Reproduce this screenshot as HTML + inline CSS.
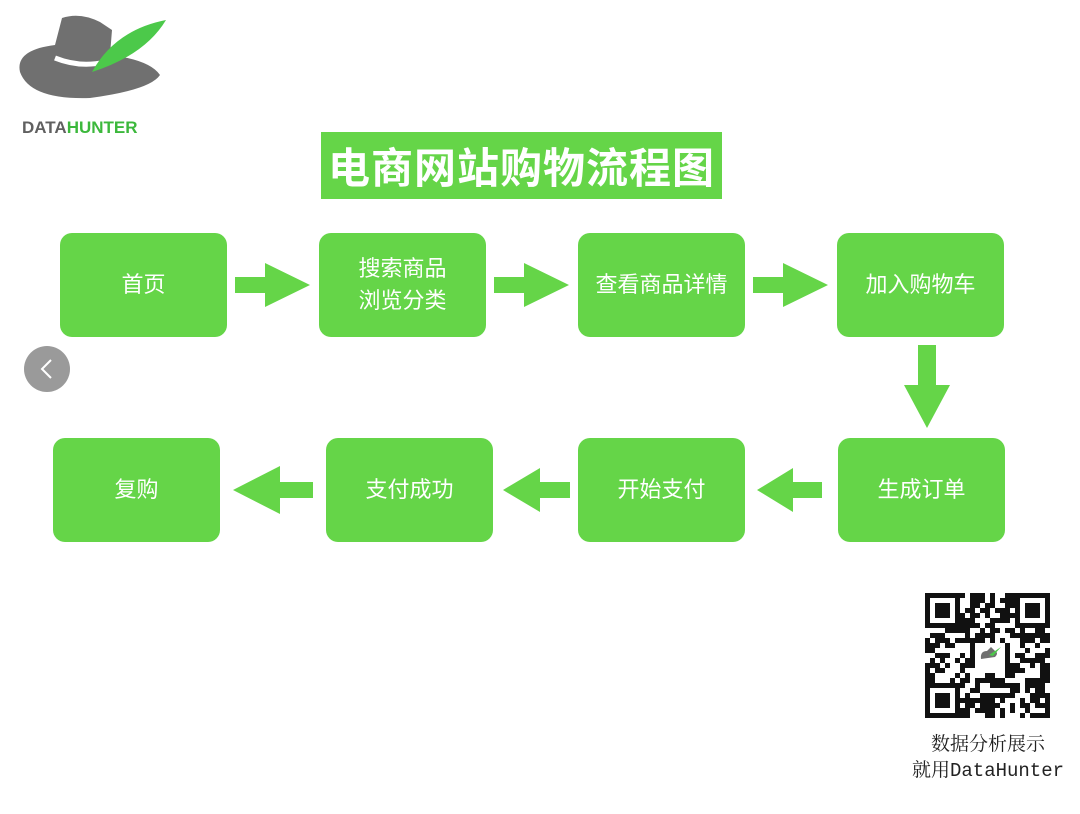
<!DOCTYPE html>
<html><head><meta charset="utf-8"><style>
body{margin:0;width:1080px;height:814px;background:#fff;position:relative;overflow:hidden;font-family:"Liberation Sans","Noto Sans CJK SC",sans-serif}
.b{position:absolute;background:#65d548;border-radius:12px;color:#fff;font-size:22px;display:flex;align-items:center;justify-content:center;text-align:center;line-height:32px;width:167px;height:104px}
.t{position:absolute;left:321px;top:132px;width:401px;height:67px;background:#65d548;color:#fff;font-size:42px;font-weight:bold;display:flex;align-items:center;justify-content:center;letter-spacing:1px}
svg{position:absolute;left:0;top:0}
</style></head><body>
<svg width="1080" height="814">
<g fill="#65d548">
<polygon points="235,277 265,277 265,263 310,285 265,307 265,293 235,293"/>
<polygon points="494,277 524,277 524,263 569,285 524,307 524,293 494,293"/>
<polygon points="753,277 783,277 783,263 828,285 783,307 783,293 753,293"/>
<polygon points="918,345 936,345 936,385 950,385 927,428 904,385 918,385"/>
<polygon points="313,482 280,482 280,466 233,490 280,514 280,498 313,498"/>
<polygon points="570,482 540,482 540,468 503,490 540,512 540,498 570,498"/>
<polygon points="822,482 793,482 793,468 757,490 793,512 793,498 822,498"/>
</g>
<circle cx="47" cy="369" r="23" fill="#9a9a9a"/>
<polyline points="51,360 42,369 51,378" fill="none" stroke="#fff" stroke-width="2"/>
<!-- logo -->
<path d="M20,72 Q15,50 55,45 L62,18 Q80,12 100,22 L112,30 L110,55 Q150,60 160,75 Q150,90 90,98 Q30,100 20,72 Z" fill="#707070"/>
<path d="M55,58 Q80,68 105,62" stroke="#fff" stroke-width="5" fill="none"/>
<path d="M92,72 Q115,30 166,20 Q145,55 92,72 Z" fill="#4cc94a"/>
<text x="22" y="133" font-size="17" font-weight="bold" fill="#606060" font-family="Liberation Sans,sans-serif">DATA<tspan fill="#3cb83c">HUNTER</tspan></text>
<g id="qr" transform="translate(925,593)"></g>
<text x="988" y="750" font-size="19" text-anchor="middle" fill="#222" font-family="Liberation Serif,Noto Serif CJK SC,serif">数据分析展示</text>
<text x="988" y="776" font-size="19" text-anchor="middle" fill="#222" font-family="Liberation Mono,Noto Serif CJK SC,monospace">就用DataHunter</text>
</svg>
<div class="t">电商网站购物流程图</div>
<div class="b" style="left:60px;top:233px">首页</div>
<div class="b" style="left:319px;top:233px">搜索商品<br>浏览分类</div>
<div class="b" style="left:578px;top:233px">查看商品详情</div>
<div class="b" style="left:837px;top:233px">加入购物车</div>
<div class="b" style="left:53px;top:438px">复购</div>
<div class="b" style="left:326px;top:438px">支付成功</div>
<div class="b" style="left:578px;top:438px">开始支付</div>
<div class="b" style="left:838px;top:438px">生成订单</div>
<script>
var g=document.getElementById('qr'),s='',n=25,c=5,seed=7;
function r(){seed=(seed*9301+49297)%233280;return seed/233280;}
function f(x,y){return (x<7&&y<7)||(x>=n-7&&y<7)||(x<7&&y>=n-7);}
for(var y=0;y<n;y++)for(var x=0;x<n;x++){var on;
if(f(x,y)){var a=x,b=y<7?y:y-(n-7);if(x>=n-7)a=x-(n-7);on=(a==0||a==6||b==0||b==6||(a>=2&&a<=4&&b>=2&&b<=4));}
else if(x>=10&&x<=15&&y>=10&&y<=15)on=false;else on=r()<0.5;
if(on)s+='<rect x="'+x*c+'" y="'+y*c+'" width="'+c+'" height="'+c+'" fill="#111"/>';}
s+='<path d="M56,66 Q55,58 62,58 L66,54 L70,58 Q74,60 70,64 Z" fill="#707070"/><path d="M64,62 L76,54 L68,63Z" fill="#4cc94a"/>';
g.innerHTML=s;
</script>
</body></html>
